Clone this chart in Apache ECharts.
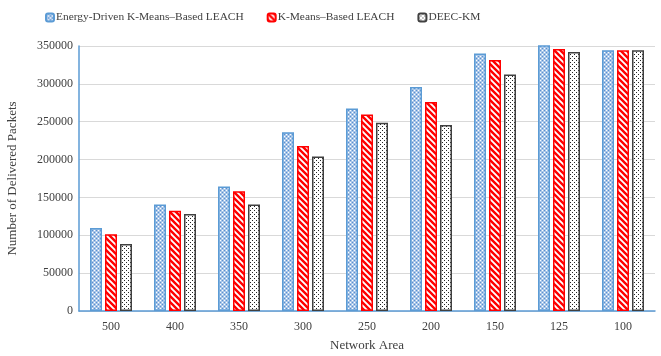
<!DOCTYPE html>
<html>
<head>
<meta charset="utf-8">
<script src="https://cdn.jsdelivr.net/npm/echarts@6/dist/echarts.min.js"></script>
<style>
  html, body { margin: 0; padding: 0; background: #fff; }
  #chart { width: 661px; height: 356px; }
</style>
</head>
<body>
<div id="chart"></div>
<script>
const categories = ['500', '400', '350', '300', '250', '200', '150', '125', '100']
const energyDriven = [109500, 140500, 164500, 236000, 267500, 296000, 340000, 352500, 344500]
const kMeans = [101500, 132500, 158000, 218000, 259500, 276000, 331500, 346000, 344500]
const deecKm = [88500, 128000, 140500, 204000, 248500, 245500, 312500, 342000, 344500]
const yTicks = [0, 50000, 100000, 150000, 200000, 250000, 300000, 350000]

// small tiles used as bar fills
function makeTile(size, draw) {
  const c = document.createElement('canvas')
  c.width = size
  c.height = size
  draw(c.getContext('2d'))
  return c
}

const blueTile = makeTile(4, ctx => {
  ctx.fillStyle = '#a9c6e8'
  ctx.fillRect(0, 0, 4, 4)
  ctx.fillStyle = '#ffffff'
  ctx.fillRect(0, 0, 1, 1)
  ctx.fillRect(2, 2, 1, 1)
  ctx.fillStyle = '#5b8fd0'
  ctx.fillRect(2, 0, 1, 1)
  ctx.fillRect(0, 2, 1, 1)
})

const redTile = makeTile(6, ctx => {
  ctx.fillStyle = '#ffffff'
  ctx.fillRect(0, 0, 6, 6)
  ctx.strokeStyle = '#ff0000'
  ctx.lineWidth = 2.4
  ctx.beginPath()
  ctx.moveTo(-3, -3); ctx.lineTo(9, 9)
  ctx.moveTo(-9, -3); ctx.lineTo(3, 9)
  ctx.moveTo(3, -3); ctx.lineTo(15, 9)
  ctx.stroke()
})

const dotTile = makeTile(4, ctx => {
  ctx.fillStyle = '#ffffff'
  ctx.fillRect(0, 0, 4, 4)
  ctx.fillStyle = '#222222'
  ctx.fillRect(0, 0, 1, 1)
  ctx.fillRect(2, 2, 1, 1)
})

const serif = '"Liberation Serif", "DejaVu Serif", serif'

const chart = echarts.init(document.getElementById('chart'))
const option = {
  animation: false,
  legend: {
    top: 7,
    left: 40,
    itemWidth: 8,
    itemHeight: 8,
    itemGap: 23,
    textStyle: { fontFamily: serif, fontSize: 11.4, color: '#404040', padding: [0, 0, 0, -3] },
    data: ['Energy-Driven K-Means–Based LEACH', 'K-Means–Based LEACH', 'DEEC-KM']
  },
  grid: { left: 79, right: 6, top: 46, bottom: 45, outerBoundsMode: 'none' },
  xAxis: {
    type: 'category',
    data: categories,
    name: 'Network Area',
    nameLocation: 'middle',
    nameGap: 28,
    nameTextStyle: { fontFamily: serif, fontSize: 13, color: '#404040' },
    axisLine: { lineStyle: { color: '#5b9bd5', width: 1.5 } },
    axisTick: { show: false },
    axisLabel: { fontFamily: serif, fontSize: 12, color: '#404040', margin: 10 }
  },
  yAxis: {
    type: 'value',
    min: 0,
    max: yTicks[yTicks.length - 1],
    interval: yTicks[1] - yTicks[0],
    name: 'Number of Delivered Packets',
    nameLocation: 'middle',
    nameGap: 60,
    nameTextStyle: { fontFamily: serif, fontSize: 13, color: '#404040' },
    axisLine: { show: true, lineStyle: { color: '#5b9bd5', width: 1.5 } },
    axisTick: { show: false },
    axisLabel: {
      fontFamily: serif,
      fontSize: 12,
      color: '#404040',
      margin: 6,
      formatter: v => String(v)
    },
    splitLine: { lineStyle: { color: '#d9d9d9', width: 1 } }
  },
  series: [
    {
      name: 'Energy-Driven K-Means–Based LEACH',
      type: 'bar',
      data: energyDriven,
      barWidth: 12,
      barGap: '25%',
      itemStyle: {
        color: { image: blueTile, repeat: 'repeat' },
        borderColor: '#5b9bd5',
        borderWidth: 1.5
      }
    },
    {
      name: 'K-Means–Based LEACH',
      type: 'bar',
      data: kMeans,
      barWidth: 12,
      barGap: '25%',
      itemStyle: {
        color: { image: redTile, repeat: 'repeat' },
        borderColor: '#ff0000',
        borderWidth: 1.5
      }
    },
    {
      name: 'DEEC-KM',
      type: 'bar',
      data: deecKm,
      barWidth: 12,
      barGap: '25%',
      itemStyle: {
        color: { image: dotTile, repeat: 'repeat' },
        borderColor: '#404040',
        borderWidth: 1.5
      }
    }
  ]
}
chart.setOption(option)
</script>
</body>
</html>
